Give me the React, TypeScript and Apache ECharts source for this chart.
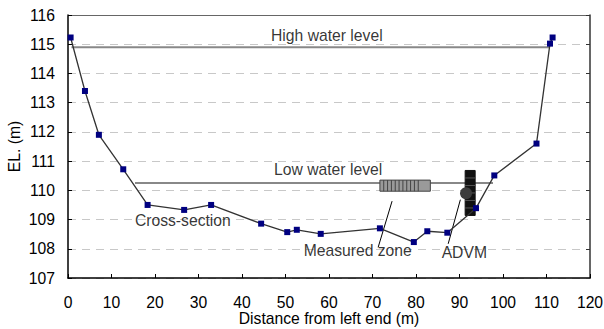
import React, { useEffect, useRef } from "react";
import * as echarts from "echarts";

// Cross-section survey points
const distances = [0.6, 3.9, 7.1, 12.7, 18.3, 26.7, 32.9, 44.4, 50.4, 52.6, 58.1, 71.7, 79.5, 82.6, 87.2, 93.8, 98.0, 107.7, 110.8, 111.4];
const elevations = [115.23, 113.4, 111.9, 110.72, 109.5, 109.33, 109.5, 108.86, 108.57, 108.65, 108.51, 108.7, 108.23, 108.6, 108.55, 109.39, 110.51, 111.6, 115.02, 115.23];

// Water levels
const highWaterX = [0.8, 110.6];
const highWaterEL = 114.9;
const lowWaterX = [15.4, 97.7];
const lowWaterEL = 110.25;

// Measured zone box [x0, y0, x1, y1]
const measuredZone = [71.7, 109.97, 83.3, 110.35];
// ADVM body [x0, y0, x1, y1] and sensor centre
const advmBody = [91.3, 109.14, 93.6, 110.68];
const advmSensor = [91.5, 109.9];

// Annotations
const annotationTexts = ["High water level", "Low water level", "Cross-section", "Measured zone", "ADVM"];
const annotationAt = [[59.5, 115.29], [59.8, 110.73], [26.4, 108.97], [66.6, 107.94], [91.1, 107.88]];
const arrows = [
  [[71.3, 108.05], [74.5, 109.63]],
  [[87.4, 108.17], [90.2, 109.68]],
];

const FONT = "'Liberation Sans', Arial, sans-serif";
const FS = 15.7;

export default function App() {
  const ref = useRef<HTMLDivElement>(null);
  useEffect(() => {
    if (!ref.current) return;
    const chart = echarts.init(ref.current, null, { renderer: "svg" });
    const profile = distances.map((d, i) => [d, elevations[i]]);
    const option: any = {
      animation: false,
      textStyle: { fontFamily: FONT },
      grid: { left: 68, right: 14, top: 15, bottom: 51, containLabel: false, outerBoundsMode: "none" },
      xAxis: [
        {
          type: "value",
          min: 0,
          max: 120,
          interval: 10,
          name: "Distance from left end (m)",
          nameLocation: "middle",
          nameGap: 33,
          nameMoveOverlap: false,
          nameTextStyle: { fontSize: FS, lineHeight: 15, color: "#000", fontFamily: FONT },
          axisLine: { show: true, lineStyle: { color: "#000", width: 1.5 } },
          axisTick: { show: true, inside: true, length: 4, lineStyle: { color: "#000" } },
          axisLabel: { fontSize: FS, lineHeight: 15, color: "#000", margin: 17, fontFamily: FONT },
          splitLine: { show: false },
        },
        {
          type: "value",
          position: "top",
          min: 0,
          max: 120,
          axisLine: { show: true, onZero: false, lineStyle: { color: "#666", width: 1 } },
          axisTick: { show: false },
          axisLabel: { show: false },
          splitLine: { show: false },
        },
      ],
      yAxis: [
        {
          type: "value",
          min: 107,
          max: 116,
          interval: 1,
          name: "EL. (m)",
          nameLocation: "middle",
          nameGap: 46,
          nameMoveOverlap: false,
          nameTextStyle: { fontSize: FS, color: "#000", fontFamily: FONT },
          axisLine: { show: true, lineStyle: { color: "#000", width: 1.5 } },
          axisTick: { show: true, inside: true, length: 4, lineStyle: { color: "#000" } },
          axisLabel: { fontSize: FS, color: "#000", margin: 13, fontFamily: FONT },
          splitLine: { show: true, lineStyle: { color: "#c8c8c8", type: [8, 6], width: 1 } },
        },
        {
          type: "value",
          position: "right",
          min: 107,
          max: 116,
          interval: 1,
          axisLine: { show: true, onZero: false, lineStyle: { color: "#333", width: 1.5 } },
          axisTick: { show: true, inside: true, length: 4, lineStyle: { color: "#333" } },
          axisLabel: { show: false },
          splitLine: { show: false },
        },
      ],
      series: [
        {
          type: "line",
          data: highWaterX.map((x) => [x, highWaterEL]),
          symbol: "none",
          lineStyle: { color: "#888", width: 2 },
          z: 1,
        },
        {
          type: "line",
          data: lowWaterX.map((x) => [x, lowWaterEL]),
          symbol: "none",
          lineStyle: { color: "#888", width: 2 },
          z: 1,
        },
        {
          type: "custom",
          z: 2,
          data: [measuredZone],
          encode: { x: [0, 2], y: [1, 3] },
          renderItem: (params: any, api: any) => {
            const p0 = api.coord([api.value(0), api.value(3)]);
            const p1 = api.coord([api.value(2), api.value(1)]);
            const w = p1[0] - p0[0];
            const h = p1[1] - p0[1];
            const children: any[] = [
              { type: "rect", shape: { x: p0[0], y: p0[1], width: w, height: h }, style: { fill: "#9a9a9a", stroke: "#444", lineWidth: 1 } },
            ];
            const stripes = 10;
            for (let i = 1; i <= stripes; i++) {
              const x = p0[0] + (w * 0.76 * i) / stripes;
              children.push({ type: "line", shape: { x1: x, y1: p0[1], x2: x, y2: p1[1] }, style: { stroke: "#444", lineWidth: 1 } });
            }
            return { type: "group", children };
          },
        },
        {
          type: "custom",
          z: 3,
          data: [advmBody],
          encode: { x: [0, 2], y: [1, 3] },
          renderItem: (params: any, api: any) => {
            const p0 = api.coord([api.value(0), api.value(3)]);
            const p1 = api.coord([api.value(2), api.value(1)]);
            const w = p1[0] - p0[0];
            const h = p1[1] - p0[1];
            const c = api.coord(advmSensor);
            const children: any[] = [
              { type: "rect", shape: { x: p0[0], y: p0[1], width: w, height: h }, style: { fill: "#111", stroke: "#111", lineWidth: 1 } },
            ];
            const cells = 6;
            for (let i = 1; i < cells; i++) {
              const y = p0[1] + (h * i) / cells;
              children.push({ type: "line", shape: { x1: p0[0], y1: y, x2: p1[0], y2: y }, style: { stroke: "#555", lineWidth: 1 } });
            }
            children.push({ type: "circle", shape: { cx: c[0], cy: c[1], r: 6 }, style: { fill: "#3c3c3c" } });
            return { type: "group", children };
          },
        },
        {
          type: "line",
          data: profile,
          symbol: "rect",
          symbolSize: 6,
          itemStyle: { color: "#000080" },
          lineStyle: { color: "#333", width: 1.3 },
          z: 5,
        },
        {
          type: "scatter",
          symbolSize: 0,
          z: 6,
          data: annotationTexts.map((t, i) => ({ name: t, value: annotationAt[i] })),
          label: {
            show: true,
            position: "inside",
            formatter: (p: any) => p.name,
            fontSize: FS,
            color: "#000",
            fontFamily: FONT,
          },
          markLine: {
            silent: true,
            symbol: ["none", "arrow"],
            symbolSize: [0, 7],
            label: { show: false },
            lineStyle: { color: "#000", width: 1, type: "solid" },
            data: arrows.map((a) => [{ coord: a[0] }, { coord: a[1] }]),
          },
        },
      ],
    };
    chart.setOption(option);
    return () => chart.dispose();
  }, []);
  return <div ref={ref} style={{ width: 604, height: 329, position: "absolute", left: 0, top: 0, background: "#fff" }} />;
}
